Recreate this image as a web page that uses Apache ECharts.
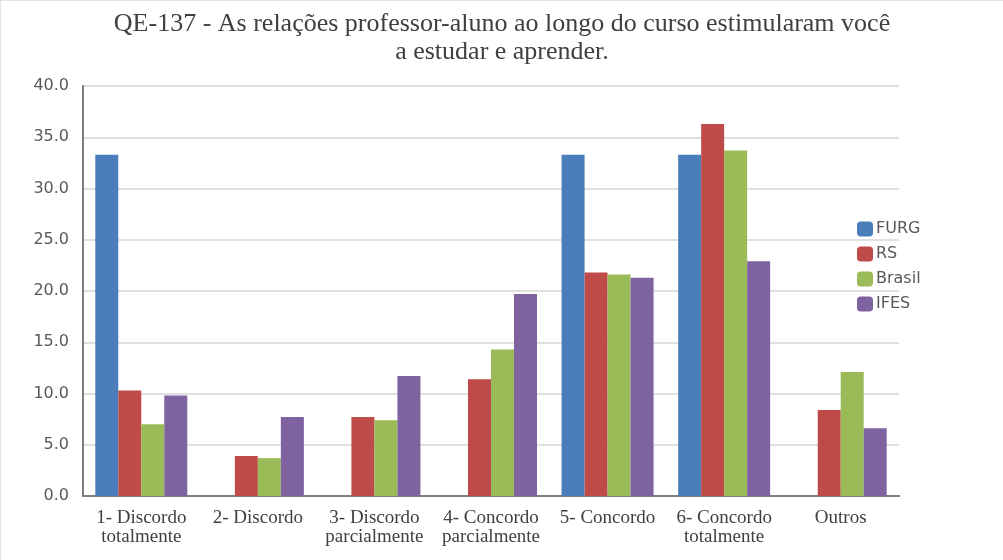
<!DOCTYPE html>
<html>
<head>
<meta charset="utf-8">
<script src="https://cdn.jsdelivr.net/npm/echarts@6/dist/echarts.min.js"></script>
<style>
  html, body { margin: 0; padding: 0; background: #fff; }
  #main { width: 1003px; height: 560px; box-sizing: border-box; border-left: 1px solid #e4e4e4; border-top: 1px solid #e4e4e4; }
</style>
</head>
<body>
<div id="main"></div>
<script>
// dados
const categorias = ['1- Discordo\ntotalmente', '2- Discordo', '3- Discordo\nparcialmente', '4- Concordo\nparcialmente', '5- Concordo', '6- Concordo\ntotalmente', 'Outros']
const furg = [33.3, 0, 0, 0, 33.3, 33.3, 0]
const rs = [10.3, 3.9, 7.7, 11.4, 21.8, 36.3, 8.4]
const brasil = [7.0, 3.7, 7.4, 14.3, 21.6, 33.7, 12.1]
const ifes = [9.8, 7.7, 11.7, 19.7, 21.3, 22.9, 6.6]
const nomes = ['FURG', 'RS', 'Brasil', 'IFES']
const cores = ['#4a7ebb', '#be4b48', '#9bbb59', '#7f63a1']

const main = document.getElementById('main')
const myChart = echarts.init(main)

const serie = (nome, dados, i) => ({
  name: nome,
  type: 'bar',
  data: dados,
  barWidth: 23,
  barGap: '0%',
  itemStyle: { color: cores[i] }
})

let option = {
  animation: false,
  title: {
    text: 'QE-137 - As relações professor-aluno ao longo do curso estimularam você\na estudar e aprender.',
    left: 'center',
    top: 4,
    textStyle: {
      fontFamily: 'Liberation Serif',
      fontSize: 26,
      fontWeight: 'normal',
      color: '#404040',
      lineHeight: 28
    }
  },
  legend: {
    data: nomes,
    orient: 'vertical',
    left: 851,
    top: 215,
    itemWidth: 16,
    itemHeight: 15,
    itemGap: 9,
    textStyle: { fontFamily: 'DejaVu Sans', fontSize: 16, color: '#595959', padding: [0, 0, 0, -2] }
  },
  grid: {
    left: 82,
    right: 104,
    top: 85,
    bottom: 64
  },
  xAxis: {
    type: 'category',
    data: categorias,
    axisLine: { lineStyle: { color: '#7f7f7f', width: 2 } },
    axisTick: { show: false },
    axisLabel: {
      interval: 0,
      margin: 13,
      fontFamily: 'Liberation Serif',
      fontSize: 19,
      color: '#404040',
      lineHeight: 19
    }
  },
  yAxis: {
    type: 'value',
    min: 0,
    max: 40,
    interval: 5,
    axisLine: { show: true, lineStyle: { color: '#7f7f7f', width: 2 } },
    axisTick: { show: false },
    splitLine: { lineStyle: { color: '#e0e0e0', width: 2 } },
    axisLabel: {
      formatter: v => v.toFixed(1),
      margin: 14,
      fontFamily: 'DejaVu Sans',
      fontSize: 16,
      color: '#595959'
    }
  },
  series: [
    serie('FURG', furg, 0),
    serie('RS', rs, 1),
    serie('Brasil', brasil, 2),
    serie('IFES', ifes, 3)
  ]
}

myChart.setOption(option)
</script>
</body>
</html>
